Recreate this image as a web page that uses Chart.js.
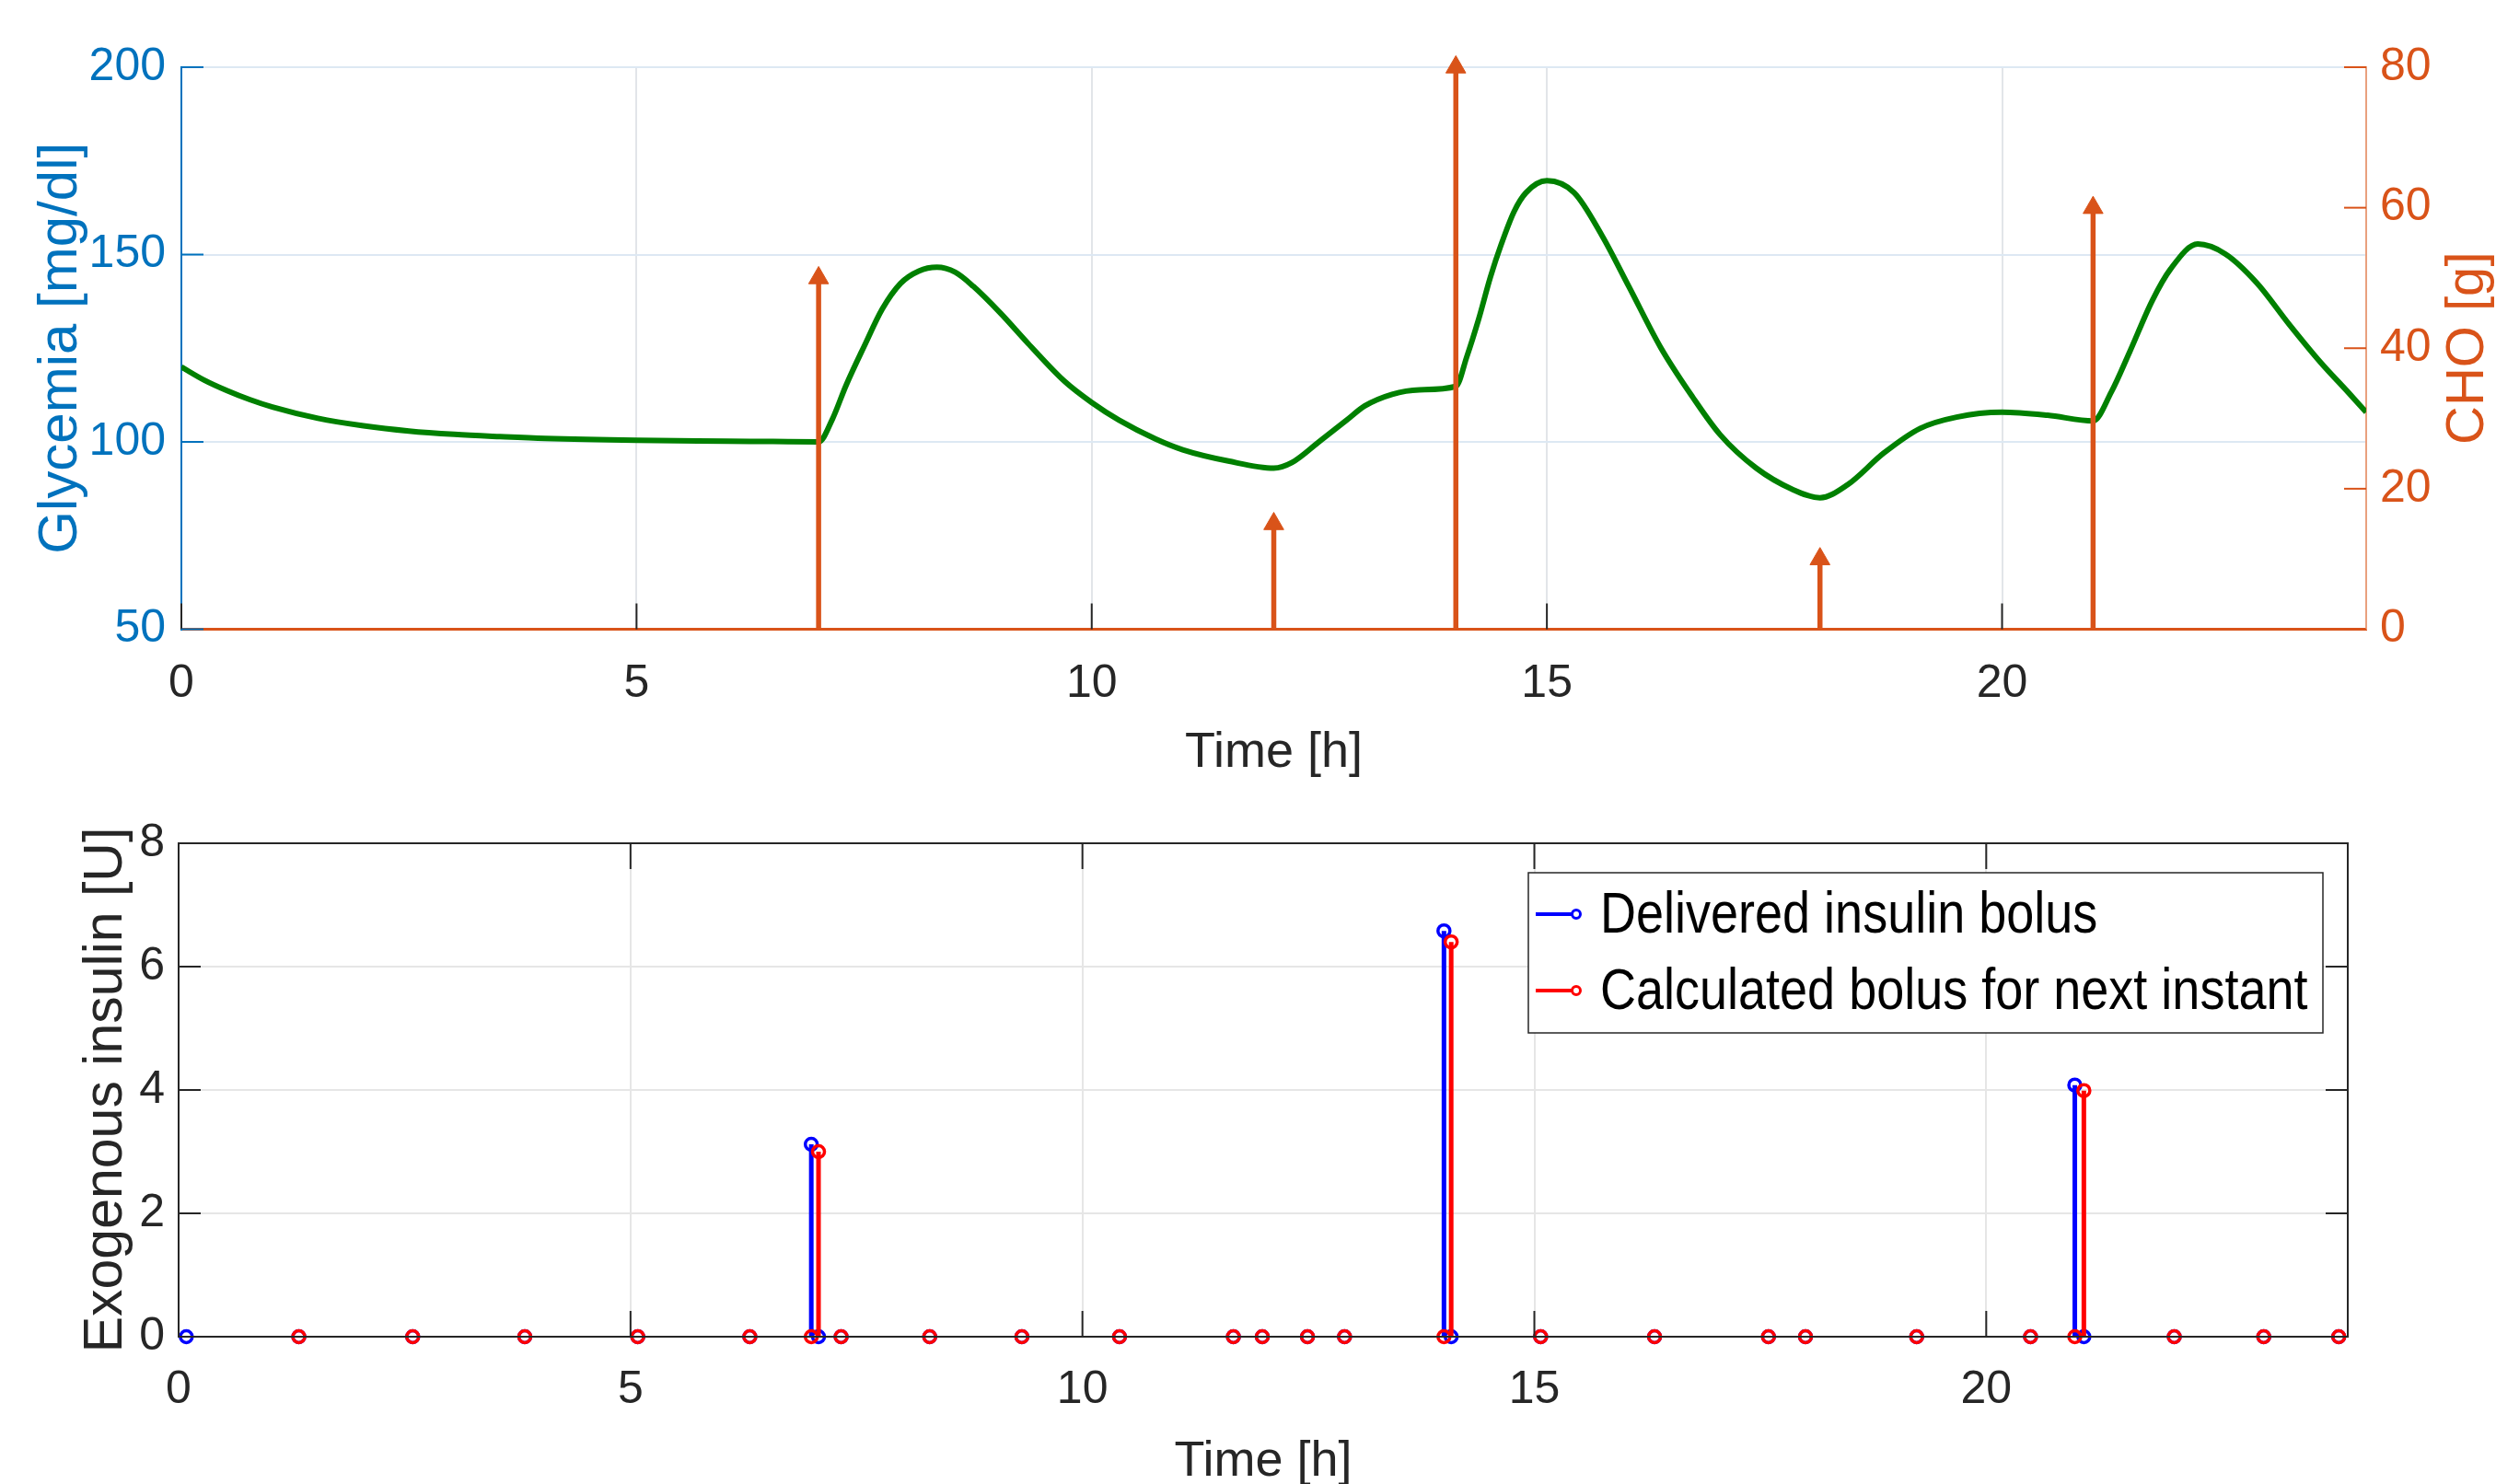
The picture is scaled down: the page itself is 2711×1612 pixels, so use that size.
<!DOCTYPE html>
<html>
<head>
<meta charset="utf-8">
<title>Glycemia, CHO and insulin boluses</title>
<script src="https://cdn.jsdelivr.net/npm/chart.js@4.4.1/dist/chart.umd.min.js"></script>
<style>
  html, body { margin: 0; padding: 0; background: #fff; }
  #top { position: absolute; left: 0; top: 0; width: 2711px; height: 860px; }
  #bottom { position: absolute; left: 0; top: 860px; width: 2711px; height: 752px; }
</style>
</head>
<body>
<div id="top"><canvas id="glyChart"></canvas></div>
<div id="bottom"><canvas id="insChart"></canvas></div>
<script>
// glycemia [mg/dl] vs time [h]
const glyTime = [0, 0.25, 0.5, 0.75, 1, 1.5, 2, 2.5, 3, 3.5, 4, 5, 6, 6.5, 7, 7.15, 7.3, 7.5, 7.7, 7.9,
  8.1, 8.3, 8.5, 8.7, 9, 9.3, 9.7, 10, 10.3, 10.7, 11, 11.5, 12, 12.2, 12.5, 12.8, 13, 13.3, 13.6, 14,
  14.12, 14.25, 14.38, 14.5, 14.64, 14.77, 15, 15.3, 15.6, 15.9, 16.25, 16.6, 16.9, 17.3, 17.7, 18, 18.3,
  18.7, 19.1, 19.5, 20, 20.5, 21, 21.2, 21.4, 21.65, 21.85, 22.15, 22.45, 22.8, 23.15, 23.5, 23.8, 24];
const glyValue = [120, 116.5, 113.7, 111.3, 109.3, 106.3, 104.3, 102.9, 102.0, 101.4, 100.9, 100.4, 100.2, 100.1, 100.0, 106, 115, 125.5, 135.5, 142.3,
  145.6, 146.6, 145.3, 141.5, 134.3, 126.3, 116.2, 110.5, 105.8, 100.8, 97.9, 94.9, 93.0, 94.5, 100.1, 105.8, 109.6, 112.7, 113.9, 114.8,
  122.7, 132.7, 144, 152.8, 161.5, 166.5, 169.7, 166.5, 155.3, 141.5, 125.2, 112, 102, 93, 87.3, 85.1, 88.5,
  97, 103.6, 106.6, 107.9, 107.1, 105.6, 113.3, 123.9, 137.7, 146.1, 152.8, 150.2, 142.4, 131.5, 121.2, 113.3, 107.9];

// meals, CHO [g]
const mealTime = [7, 12, 14, 18, 21];
const mealCho = [50, 15, 80, 10, 60];

// insulin boluses [U]
const delTime = [0.085, 1.33, 2.59, 3.83, 5.08, 6.32, 7.0, 7.08, 7.33, 8.31, 9.33, 10.41, 11.67, 11.99, 12.49, 12.9,
  14.0, 14.08, 15.07, 16.33, 17.59, 18.0, 19.23, 20.49, 20.98, 21.08, 22.08, 23.07, 23.9];
const delUnits = [0, 0, 0, 0, 0, 0, 3.12, 0, 0, 0, 0, 0, 0, 0, 0, 0,
  6.58, 0, 0, 0, 0, 0, 0, 0, 4.08, 0, 0, 0, 0];
const calTime = [1.33, 2.59, 3.83, 5.08, 6.32, 7.0, 7.08, 7.33, 8.31, 9.33, 10.41, 11.67, 11.99, 12.49, 12.9,
  14.0, 14.08, 15.07, 16.33, 17.59, 18.0, 19.23, 20.49, 20.98, 21.08, 22.08, 23.07, 23.9];
const calUnits = [0, 0, 0, 0, 0, 0, 3.0, 0, 0, 0, 0, 0, 0, 0, 0,
  0, 6.4, 0, 0, 0, 0, 0, 0, 0, 3.99, 0, 0, 0];

const legendLabels = ['Delivered insulin bolus', 'Calculated bolus for next instant'];

const FONT = "'Liberation Sans', Arial, Helvetica, sans-serif";
const TXT = '#262626';
const BLUE_AX = '#0072BD';
const ORANGE = '#D95319';

// the matlab text is narrow and tall: use a narrow face if there is one
function hasFont(name) {
  const c = document.createElement('canvas').getContext('2d');
  c.font = '40px monospace';
  const a = c.measureText('Exogenous 0123').width;
  c.font = '40px "' + name + '", monospace';
  const b = c.measureText('Exogenous 0123').width;
  return a !== b;
}
const NARROW = hasFont('Liberation Sans Narrow');
const NFONT = NARROW ? "'Liberation Sans Narrow', " + FONT : FONT;
const tickSize = NARROW ? 56 : 50;
const xTitleSize = NARROW ? 60 : 54;
const legendSize = NARROW ? 63 : 54;
const stretch = NARROW ? 1 : 1.15;

function points(xs, ys) {
  return xs.map((x, i) => ({x: x, y: ys[i]}));
}
// stem segments: 0 -> value, then a gap
function stems(xs, ys) {
  const out = [];
  xs.forEach((x, i) => { out.push({x: x, y: 0}, {x: x, y: ys[i]}, {x: x, y: null}); });
  return out;
}
function fixWidth(w) { return function(scale) { scale.width = w; }; }
function fixHeight(h) { return function(scale) { scale.height = h; }; }

// matlab style ticks pointing into the axes
const innerTicks = {
  id: 'innerTicks',
  afterDraw(chart, args, opts) {
    const ctx = chart.ctx, ca = chart.chartArea;
    ctx.save();
    if (opts.box) {
      ctx.strokeStyle = TXT;
      ctx.lineWidth = 2;
      ctx.strokeRect(ca.left, ca.top, ca.right - ca.left, ca.bottom - ca.top);
    }
    (opts.marks || []).forEach(m => {
      const sc = chart.scales[m.scale];
      ctx.strokeStyle = m.color;
      ctx.lineWidth = 2;
      sc.ticks.forEach(t => {
        const p = sc.getPixelForValue(t.value);
        ctx.beginPath();
        if (m.side === 'bottom') { ctx.moveTo(p, ca.bottom); ctx.lineTo(p, ca.bottom - m.len); }
        if (m.side === 'top') { ctx.moveTo(p, ca.top); ctx.lineTo(p, ca.top + m.len); }
        if (m.side === 'left') { ctx.moveTo(ca.left, p); ctx.lineTo(ca.left + m.len, p); }
        if (m.side === 'right') { ctx.moveTo(ca.right, p); ctx.lineTo(ca.right - m.len, p); }
        ctx.stroke();
      });
    });
    if (opts.rightTitle) {
      ctx.fillStyle = ORANGE;
      ctx.font = '58px ' + FONT;
      ctx.textAlign = 'center';
      ctx.textBaseline = 'middle';
      ctx.translate(ca.right + 111, (ca.top + ca.bottom) / 2);
      ctx.rotate(-Math.PI / 2);
      ctx.fillText(opts.rightTitle, 0, 0);
    }
    ctx.restore();
  }
};

// boxed legend inside the plot, line + marker samples
const boxLegend = {
  id: 'boxLegend',
  afterDraw(chart, args, opts) {
    if (!opts.items) return;
    const ctx = chart.ctx, ca = chart.chartArea;
    const w = 863, h = 174;
    const x0 = ca.right - 27 - w, y0 = ca.top + 32;
    ctx.save();
    ctx.fillStyle = '#fff';
    ctx.fillRect(x0, y0, w, h);
    ctx.strokeStyle = TXT;
    ctx.lineWidth = 1.5;
    ctx.strokeRect(x0, y0, w, h);
    opts.items.forEach((it, i) => {
      const y = y0 + 45 + i * 83;
      ctx.strokeStyle = it.color;
      ctx.lineWidth = 4;
      ctx.beginPath();
      ctx.moveTo(x0 + 8, y);
      ctx.lineTo(x0 + 47, y);
      ctx.stroke();
      ctx.lineWidth = 3;
      ctx.beginPath();
      ctx.arc(x0 + 52, y, 4.5, 0, Math.PI * 2);
      ctx.stroke();
      ctx.save();
      ctx.translate(x0 + 78, y + 3);
      ctx.scale(1, stretch);
      ctx.font = legendSize + 'px ' + NFONT;
      ctx.textBaseline = 'middle';
      ctx.textAlign = 'left';
      ctx.fillStyle = '#000';
      ctx.fillText(it.text, 0, 0);
      ctx.restore();
    });
    ctx.restore();
  }
};

const tickFont = {family: NFONT, size: tickSize};

new Chart(document.getElementById('glyChart'), {
  type: 'line',
  data: {
    datasets: [
      {
        type: 'scatter', yAxisID: 'y2', data: points(mealTime, mealCho),
        pointStyle: 'triangle', pointRadius: 12.5, backgroundColor: ORANGE, borderColor: ORANGE, borderWidth: 1, clip: false
      },
      {
        yAxisID: 'y2', data: stems(mealTime, mealCho),
        borderColor: ORANGE, borderWidth: 5.5, pointRadius: 0, spanGaps: false
      },
      {
        yAxisID: 'y', data: points(glyTime, glyValue),
        borderColor: '#008000', borderWidth: 6, pointRadius: 0, cubicInterpolationMode: 'monotone'
      }
    ]
  },
  options: {
    responsive: true,
    maintainAspectRatio: false,
    animation: false,
    layout: {padding: {top: 73, left: 0, right: 0, bottom: 0}},
    scales: {
      x: {
        type: 'linear', min: 0, max: 24,
        afterFit: fixHeight(176.5),
        ticks: {stepSize: 5, includeBounds: false, color: TXT, font: tickFont, padding: 30},
        grid: {color: ctx => ctx.tick && ctx.tick.value === 0 ? 'rgba(0,0,0,0)' : '#e2e5e9', lineWidth: 2, drawTicks: false},
        border: {color: ORANGE, width: 3},
        title: {display: true, text: 'Time [h]', color: TXT, font: {family: NFONT, size: xTitleSize, lineHeight: 1}, padding: {top: 0, bottom: 15}}
      },
      y: {
        position: 'left', min: 50, max: 200,
        afterFit: fixWidth(197),
        ticks: {stepSize: 50, color: BLUE_AX, font: tickFont, padding: 17},
        grid: {color: '#dde8f3', lineWidth: 2, drawTicks: false},
        border: {color: BLUE_AX, width: 2},
        title: {display: true, text: 'Glycemia [mg/dl]', color: BLUE_AX, font: {family: FONT, size: 60, lineHeight: 1}, padding: {top: 36, bottom: 0}}
      },
      y2: {
        position: 'right', min: 0, max: 80,
        afterFit: fixWidth(141),
        ticks: {stepSize: 20, color: ORANGE, font: tickFont, padding: 15},
        grid: {drawOnChartArea: false, drawTicks: false},
        border: {color: '#e9a07e', width: 2}
      }
    },
    plugins: {
      legend: {display: false},
      tooltip: {enabled: false},
      innerTicks: {
        rightTitle: 'CHO [g]',
        marks: [
          {scale: 'x', side: 'bottom', len: 28, color: TXT},
          {scale: 'y', side: 'left', len: 24, color: BLUE_AX},
          {scale: 'y2', side: 'right', len: 24, color: ORANGE}
        ]
      }
    }
  },
  plugins: [innerTicks]
});

new Chart(document.getElementById('insChart'), {
  type: 'line',
  data: {
    datasets: [
      {
        type: 'scatter', data: points(calTime, calUnits),
        pointRadius: 6.5, borderWidth: 3.5, borderColor: '#ff0000', backgroundColor: 'rgba(0,0,0,0)', clip: false
      },
      {
        data: stems(calTime, calUnits), borderColor: '#ff0000', borderWidth: 5, pointRadius: 0, spanGaps: false
      },
      {
        type: 'scatter', data: points(delTime, delUnits),
        pointRadius: 6.5, borderWidth: 3.5, borderColor: '#0000ff', backgroundColor: 'rgba(0,0,0,0)', clip: false
      },
      {
        data: stems(delTime, delUnits), borderColor: '#0000ff', borderWidth: 5, pointRadius: 0, spanGaps: false
      }
    ]
  },
  options: {
    responsive: true,
    maintainAspectRatio: false,
    animation: false,
    layout: {padding: {top: 56, left: 0, right: 161, bottom: 0}},
    scales: {
      x: {
        type: 'linear', min: 0, max: 24,
        afterFit: fixHeight(160),
        ticks: {stepSize: 5, includeBounds: false, color: TXT, font: tickFont, padding: 28},
        grid: {color: '#e6e6e6', lineWidth: 2, drawTicks: false},
        border: {display: false},
        title: {display: true, text: 'Time [h]', color: TXT, font: {family: NFONT, size: xTitleSize, lineHeight: 1}, padding: {top: 0, bottom: -3}}
      },
      y: {
        min: 0, max: 8,
        afterFit: fixWidth(194),
        ticks: {stepSize: 2, color: TXT, font: tickFont, padding: 15},
        grid: {color: '#e6e6e6', lineWidth: 2, drawTicks: false},
        border: {display: false},
        title: {display: true, text: 'Exogenous insulin [U]', color: TXT, font: {family: FONT, size: 59, lineHeight: 1}, padding: {top: 86, bottom: 0}}
      }
    },
    plugins: {
      legend: {display: false},
      tooltip: {enabled: false},
      innerTicks: {
        box: true,
        marks: [
          {scale: 'x', side: 'bottom', len: 28, color: TXT},
          {scale: 'x', side: 'top', len: 28, color: TXT},
          {scale: 'y', side: 'left', len: 24, color: TXT},
          {scale: 'y', side: 'right', len: 24, color: TXT}
        ]
      },
      boxLegend: {
        items: [
          {text: legendLabels[0], color: '#0000ff'},
          {text: legendLabels[1], color: '#ff0000'}
        ]
      }
    }
  },
  plugins: [innerTicks, boxLegend]
});
</script>
</body>
</html>
